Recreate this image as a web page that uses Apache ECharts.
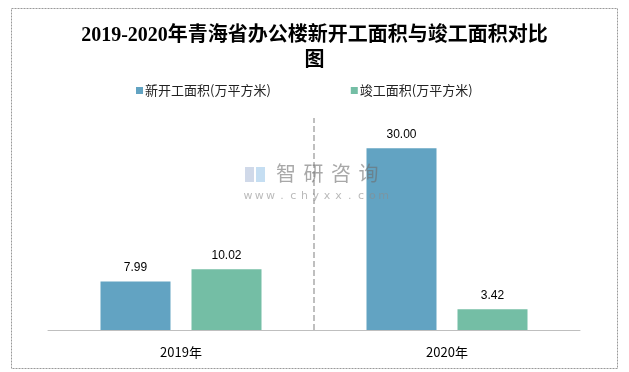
<!DOCTYPE html>
<html><head><meta charset="utf-8">
<script src="https://cdn.jsdelivr.net/npm/echarts@6/dist/echarts.min.js"></script>
<style>html,body{margin:0;padding:0;background:#fff}#c{width:629px;height:372px}</style>
</head><body><div id="c"></div>
<script>
const categories = ['2019年', '2020年'];
const seriesNames = ['新开工面积(万平方米)', '竣工面积(万平方米)'];
const newStart = [7.99, 30.00];
const completed = [10.02, 3.42];
const colors = ['#62a3c2', '#74bea5'];

const chart = echarts.init(document.getElementById('c'));
const wm = [];
'智研咨询'.split('').forEach((ch, i) => wm.push({ type: 'text', left: 276 + i * 27.5, top: 163, z: 100, silent: true,
  style: { text: ch, fill: 'rgba(110,110,110,0.6)', font: '20px "Noto Sans CJK SC", sans-serif' } }));
'www.chyxx.com'.split('').forEach((ch, i) => wm.push({ type: 'text', x: 248 + i * 11.3, y: 191, z: 100, silent: true,
  style: { text: ch, fill: 'rgba(140,140,140,0.6)', font: '11px "DejaVu Sans", sans-serif', align: 'center' } }));
wm.push({ type: 'rect', left: 245, top: 167, z: 100, silent: true, shape: { width: 9, height: 15 }, style: { fill: 'rgba(170,185,215,0.55)' } });
wm.push({ type: 'rect', left: 256, top: 167, z: 100, silent: true, shape: { width: 9, height: 15 }, style: { fill: 'rgba(140,190,230,0.5)' } });

chart.setOption({
  animation: false,
  title: {
    text: '2019-2020年青海省办公楼新开工面积与竣工面积对比\n图',
    left: 'center', top: 18,
    textStyle: { fontFamily: '"Liberation Serif", "Noto Sans CJK SC", serif', fontSize: 20, fontWeight: 'bold', color: '#000', lineHeight: 25 }
  },
  legend: {
    top: 79, left: 131, itemGap: 80,
    itemWidth: 7, itemHeight: 7, icon: 'rect',
    textStyle: { fontSize: 13, color: '#222', fontFamily: '"Noto Sans CJK SC", sans-serif', padding: [0,0,0,-3] },
    data: seriesNames
  },
  grid: { left: 48, right: 49, top: 118, bottom: 42 },
  xAxis: [{
    type: 'category', data: categories,
    axisLine: { lineStyle: { color: '#bfbfbf', width: 1 } },
    axisTick: { show: false },
    axisLabel: { margin: 16, fontSize: 13, color: '#000', fontFamily: '"Noto Sans CJK SC", sans-serif' },
    splitLine: { show: false }
  }, {
    type: 'value', min: 0, max: categories.length, show: false, splitLine: { show: false }
  }],
  yAxis: { type: 'value', min: 0, max: 35, show: false, splitLine: { show: false } },
  series: [
    { name: seriesNames[0], type: 'bar', data: newStart, barWidth: 70, barGap: '30%',
      itemStyle: { color: colors[0] },
      label: { show: true, position: 'top', distance: 8, color: '#000', fontSize: 12, formatter: p => p.value.toFixed(2) } },
    { name: seriesNames[1], type: 'bar', data: completed, barWidth: 70, barGap: '30%',
      itemStyle: { color: colors[1] },
      label: { show: true, position: 'top', distance: 8, color: '#000', fontSize: 12, formatter: p => p.value.toFixed(2) } },
    { name: 'divider', type: 'line', xAxisIndex: 1, data: [], silent: true,
      markLine: { silent: true, symbol: 'none', label: { show: false },
        lineStyle: { type: 'dashed', color: '#aaa', width: 1.5 },
        data: [{ xAxis: 1 }] } }
  ],
  graphic: [
    { type: 'rect', left: 9, top: 6, shape: { width: 606, height: 360 }, silent: true,
      style: { fill: 'none', stroke: '#999', lineWidth: 1, lineDash: [2, 1] } }
  ].concat(wm)
});
</script></body></html>
